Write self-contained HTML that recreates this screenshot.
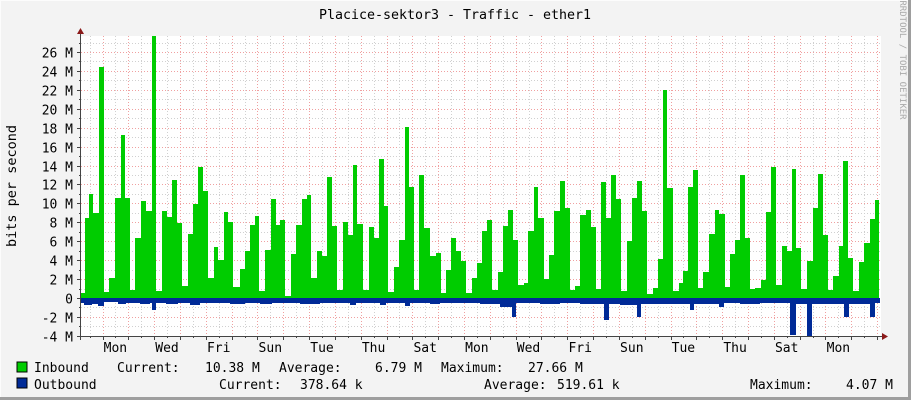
<!DOCTYPE html>
<html><head><meta charset="utf-8"><style>
html,body{margin:0;padding:0;background:#f3f3f3;}
svg{display:block;}
text{font-family:"DejaVu Sans Mono","Liberation Mono",monospace;font-size:13px;fill:#000;}
</style></head><body>
<svg width="911" height="400" viewBox="0 0 911 400" xmlns="http://www.w3.org/2000/svg">
<rect x="0" y="0" width="911" height="400" fill="#f3f3f3"/>
<line x1="0" y1="0.5" x2="911" y2="0.5" stroke="#fcfcfc"/>
<line x1="0.5" y1="0" x2="0.5" y2="400" stroke="#fcfcfc"/>
<line x1="909.5" y1="0" x2="909.5" y2="400" stroke="#9e9e9e" stroke-width="3"/>
<line x1="0" y1="398.5" x2="911" y2="398.5" stroke="#9e9e9e" stroke-width="3"/>
<rect x="81" y="36" width="800" height="300" fill="#ffffff"/>
<g id="grid" stroke-dasharray="1,2" stroke-width="1"></g>
<path fill="#00cc00" d="M81,298 L81,293 85,293 85,218 89,218 89,194 93,194 93,213 99,213 99,67 104,67 104,292 109,292 109,278 115,278 115,198 121,198 121,135 125,135 125,198 130,198 130,290 135,290 135,238 141,238 141,201 146,201 146,211 152,211 152,36 156,36 156,291 162,291 162,211 167,211 167,217 172,217 172,180 177,180 177,223 182,223 182,286 188,286 188,234 193,234 193,204 198,204 198,167 203,167 203,191 208,191 208,278 214,278 214,247 218,247 218,260 224,260 224,212 228,212 228,222 233,222 233,287 240,287 240,269 245,269 245,251 250,251 250,225 255,225 255,216 259,216 259,291 265,291 265,250 271,250 271,199 276,199 276,225 280,225 280,220 285,220 285,296 291,296 291,254 296,254 296,225 302,225 302,199 307,199 307,195 311,195 311,278 317,278 317,251 322,251 322,256 327,256 327,177 332,177 332,226 337,226 337,290 343,290 343,222 348,222 348,235 353,235 353,165 357,165 357,224 363,224 363,290 369,290 369,227 374,227 374,238 379,238 379,159 384,159 384,206 388,206 388,292 394,292 394,267 399,267 399,240 405,240 405,127 409,127 409,187 414,187 414,290 419,290 419,175 424,175 424,228 430,228 430,256 436,256 436,253 441,253 441,293 446,293 446,270 451,270 451,238 456,238 456,251 461,251 461,261 466,261 466,293 472,293 472,278 477,278 477,263 482,263 482,231 487,231 487,220 492,220 492,290 498,290 498,272 503,272 503,226 508,226 508,210 513,210 513,240 518,240 518,285 524,285 524,283 528,283 528,231 534,231 534,187 538,187 538,218 544,218 544,279 549,279 549,255 554,255 554,211 560,211 560,181 565,181 565,208 570,208 570,290 575,290 575,286 580,286 580,215 586,215 586,210 591,210 591,227 596,227 596,289 601,289 601,182 606,182 606,218 611,218 611,175 616,175 616,199 621,199 621,291 627,291 627,241 632,241 632,198 637,198 637,181 642,181 642,211 647,211 647,294 653,294 653,288 658,288 658,259 663,259 663,90 667,90 667,188 673,188 673,291 679,291 679,283 683,283 683,271 688,271 688,187 693,187 693,170 698,170 698,288 703,288 703,272 709,272 709,234 715,234 715,210 719,210 719,214 725,214 725,287 730,287 730,254 735,254 735,240 740,240 740,175 745,175 745,238 750,238 750,289 755,289 755,288 761,288 761,280 766,280 766,212 771,212 771,167 776,167 776,285 782,285 782,246 787,246 787,251 792,251 792,169 796,169 796,248 801,248 801,289 807,289 807,261 813,261 813,208 818,208 818,174 823,174 823,235 828,235 828,290 833,290 833,276 839,276 839,246 843,246 843,161 848,161 848,258 853,258 853,291 859,291 859,262 864,262 864,243 870,243 870,219 875,219 875,200 879,200 879,298 Z"/>
<path fill="#002a97" d="M81,298 L81,303 84,303 84,305 92,305 92,304 98,304 98,306 104,306 104,302 118,302 118,304 126,304 126,303 140,303 140,304 150,304 150,303 152,303 152,310 156,310 156,303 166,303 166,304 178,304 178,303 190,303 190,305 200,305 200,303 230,303 230,304 245,304 245,303 260,303 260,304 272,304 272,303 300,303 300,304 320,304 320,303 350,303 350,305 356,305 356,303 380,303 380,305 386,305 386,303 405,303 405,306 410,306 410,303 430,303 430,304 440,304 440,303 480,303 480,304 500,304 500,307 512,307 512,317 516,317 516,303 540,303 540,304 560,304 560,303 580,303 580,304 604,304 604,320 609,320 609,304 620,304 620,305 632,305 632,305 637,305 637,317 641,317 641,304 660,304 660,304 676,304 676,304 690,304 690,310 694,310 694,304 705,304 705,304 719,304 719,307 724,307 724,303 740,303 740,304 760,304 760,303 790,303 790,335 796,335 796,304 807,304 807,337 812,337 812,304 830,304 830,304 844,304 844,317 849,317 849,304 862,304 862,304 870,304 870,317 875,317 875,303 880,303 880,298 Z"/>
<g stroke="#444" stroke-width="1">
<line x1="80.5" y1="32" x2="80.5" y2="340"/>
<line x1="77" y1="336.5" x2="884" y2="336.5"/>
</g>
<polygon points="77,34 84,34 80.5,28" fill="#8b1a1a"/>
<polygon points="882,333 882,340 888,336.5" fill="#8b1a1a"/>
<g id="ticks" stroke="#444"></g>
<text x="455" y="19" text-anchor="middle" textLength="272" lengthAdjust="spacingAndGlyphs">Placice-sektor3 - Traffic - ether1</text>
<text transform="translate(16,186) rotate(-90)" text-anchor="middle" textLength="122" lengthAdjust="spacingAndGlyphs">bits per second</text>
<text transform="translate(900,60) rotate(90)" style="font-size:9px;fill:#aaa" text-anchor="middle">RRDTOOL / TOBI OETIKER</text>
<g id="ylab" text-anchor="end"></g>
<g id="xlab" text-anchor="middle"></g>
<rect x="17" y="362" width="10" height="10" fill="#00cc00" stroke="#000"/>
<rect x="17" y="378" width="10" height="10" fill="#002a97" stroke="#000"/>
<text x="34" y="372">Inbound</text>
<text x="117" y="372">Current:</text>
<text x="205" y="372">10.38 M</text>
<text x="279" y="372">Average:</text>
<text x="375" y="372">6.79 M</text>
<text x="441" y="372">Maximum:</text>
<text x="528" y="372">27.66 M</text>
<text x="34" y="389">Outbound</text>
<text x="219" y="389">Current:</text>
<text x="300" y="389">378.64 k</text>
<text x="484" y="389">Average:</text>
<text x="557" y="389">519.61 k</text>
<text x="750" y="389">Maximum:</text>
<text x="846" y="389">4.07 M</text>
</svg>
<script>
var ns="http://www.w3.org/2000/svg";
function el(p,n,a,t){var e=document.createElementNS(ns,n);for(var k in a)e.setAttribute(k,a[k]);if(t)e.textContent=t;document.getElementById(p).appendChild(e);return e;}
var ppm=9.46;
for(var k=-4;k<=27;k++){var y=Math.round(298-k*ppm)+0.5;var maj=(k%2==0);
 el("grid","line",{x1:81,x2:881,y1:y,y2:y,stroke:maj?"#f0a0a0":"#d0d0d0"});
 el("ticks","line",{x1:maj?77:79,x2:81,y1:y,y2:y});
 if(maj){el("ylab","text",{x:73,y:y+5},(k==0?"0":k+" M"));}}
for(var i=0;i<31;i++){var xm=Math.round(102.5+i*25.82)+0.5, xn=Math.round(89.6+i*25.82)+0.5;
 if(xm<881){el("grid","line",{x1:xm,x2:xm,y1:36,y2:336,stroke:"#f0a0a0"});el("ticks","line",{x1:xm,x2:xm,y1:336,y2:340});}
 if(xn<881){el("grid","line",{x1:xn,x2:xn,y1:36,y2:336,stroke:"#d0d0d0"});el("ticks","line",{x1:xn,x2:xn,y1:336,y2:338});}}
var d=["Mon","Wed","Fri","Sun","Tue","Thu","Sat","Mon","Wed","Fri","Sun","Tue","Thu","Sat","Mon"];
for(var j=0;j<d.length;j++)el("xlab","text",{x:(115.4+j*51.64).toFixed(1),y:352},d[j]);
</script>
</body></html>
